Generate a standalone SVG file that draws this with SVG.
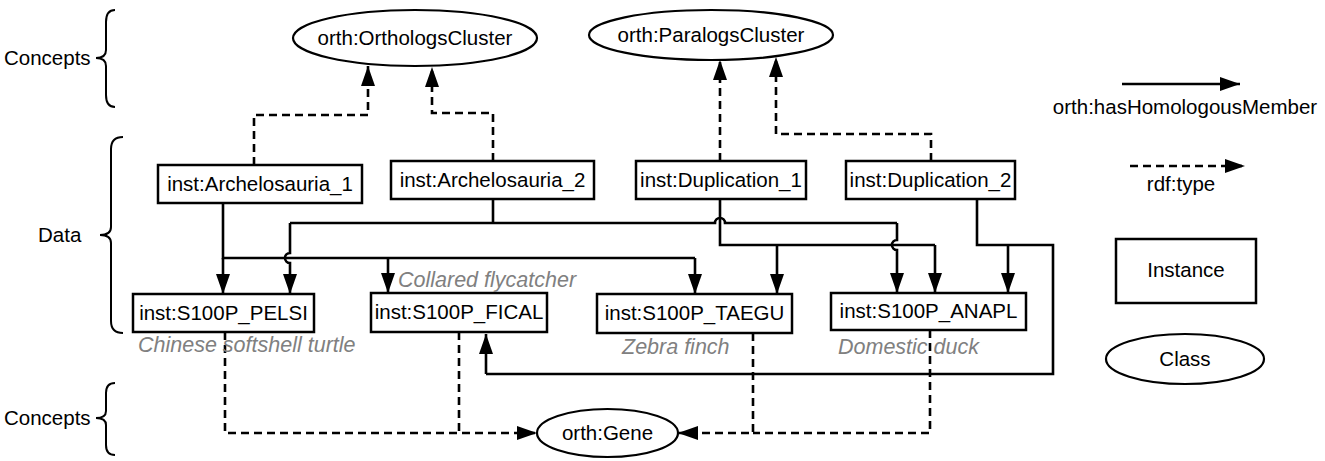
<svg xmlns="http://www.w3.org/2000/svg" width="1325" height="461" viewBox="0 0 1325 461">
<defs>
<style>
text{font-family:"Liberation Sans",Arial,sans-serif;font-size:20.5px;fill:#000}
.c{text-anchor:middle}
.sp{font-style:italic;fill:#808080;font-size:21.5px}
.box{fill:#fff;stroke:#000;stroke-width:2.5}
.ell{fill:#fff;stroke:#000;stroke-width:2.2}
.s{fill:none;stroke:#000;stroke-width:2.6;marker-end:url(#ah)}
.sn{fill:none;stroke:#000;stroke-width:2.6}
.d{fill:none;stroke:#000;stroke-width:2.6;stroke-dasharray:8 5;marker-end:url(#ah)}
.dn{fill:none;stroke:#000;stroke-width:2.6;stroke-dasharray:8 5}
.br{fill:none;stroke:#000;stroke-width:2}
</style>
<marker id="ah" markerUnits="userSpaceOnUse" markerWidth="20" markerHeight="14" refX="20" refY="7" orient="auto" viewBox="0 0 20 14">
<path d="M0,0 L20,7 L0,14 z" fill="#000"/>
</marker>
</defs>
<rect width="1325" height="461" fill="#fff"/>

<g id="labels">
<path class="br" d="M115,10 Q106,10 106,22 L106,50 Q106,58 96,58 Q106,58 106,66 L106,95 Q106,107 115,107"/>
<text x="4" y="65">Concepts</text>
<path class="br" d="M123,137 Q111,137 111,149 L111,227 Q111,235 100,235 Q111,235 111,243 L111,321 Q111,333 123,333"/>
<text x="38" y="242">Data</text>
<path class="br" d="M115,383 Q106,383 106,393 L106,411 Q106,418 96,418 Q106,418 106,425 L106,445 Q106,455 115,455"/>
<text x="4" y="425">Concepts</text>
</g>

<g id="connectors">
<path class="d" d="M254,165 V115 H368 V66"/>
<path class="d" d="M493,161 V113 H432 V67"/>
<path class="d" d="M720,161 V60"/>
<path class="d" d="M931,161 V134 H776 V57"/>
<path class="dn" d="M459,332 V433"/>
<path class="d" d="M225,332 V433 H537"/>
<path class="dn" d="M930,330 V433 H753"/>
<path class="d" d="M753,333 V433 H678"/>
<path class="sn" d="M223,203 V258 H695"/>
<path class="s" d="M223,258 V294"/>
<path class="s" d="M388,258 V293"/>
<path class="s" d="M695,258 V294"/>
<path class="sn" d="M493,199 V223"/>
<path class="sn" d="M290,223 H715 A5,5 0 0 1 725,223 H897"/>
<path class="s" d="M290,223 V253 A5,5 0 0 0 290,263 V294"/>
<path class="s" d="M897,223 V240 A5,5 0 0 0 897,250 V293"/>
<path class="sn" d="M720,199 V245 H935"/>
<path class="s" d="M777,245 V294"/>
<path class="s" d="M935,245 V293"/>
<path class="sn" d="M977,199 V245 H1053 V374 H486"/>
<path class="s" d="M486,374 V334"/>
<path class="s" d="M1008,245 V293"/>
</g>

<g id="n-orthologs">
<ellipse class="ell" cx="415" cy="38" rx="122" ry="28"/>
<text class="c" x="415" y="45">orth:OrthologsCluster</text>
</g>
<g id="n-paralogs">
<ellipse class="ell" cx="711" cy="35" rx="122" ry="25"/>
<text class="c" x="711" y="42">orth:ParalogsCluster</text>
</g>
<g id="n-arch1">
<rect class="box" x="158" y="165" width="204" height="38"/>
<text class="c" x="260" y="191">inst:Archelosauria_1</text>
</g>
<g id="n-arch2">
<rect class="box" x="391" y="161" width="203" height="38"/>
<text class="c" x="492.5" y="187">inst:Archelosauria_2</text>
</g>
<g id="n-dup1">
<rect class="box" x="636" y="161" width="170" height="38"/>
<text class="c" x="721" y="187">inst:Duplication_1</text>
</g>
<g id="n-dup2">
<rect class="box" x="846" y="161" width="169" height="38"/>
<text class="c" x="930.5" y="187">inst:Duplication_2</text>
</g>
<g id="n-pelsi">
<rect class="box" x="133" y="294" width="181" height="38"/>
<text class="c" x="223.5" y="320">inst:S100P_PELSI</text>
<text class="sp" x="138" y="352">Chinese softshell turtle</text>
</g>
<g id="n-fical">
<rect class="box" x="371" y="293" width="176" height="39"/>
<text class="c" x="459" y="319">inst:S100P_FICAL</text>
<text class="sp" x="398" y="287">Collared flycatcher</text>
</g>
<g id="n-taegu">
<rect class="box" x="597" y="294" width="195" height="39"/>
<text class="c" x="694.5" y="320">inst:S100P_TAEGU</text>
<text class="sp" x="622" y="354">Zebra finch</text>
</g>
<g id="n-anapl">
<rect class="box" x="831" y="293" width="195" height="37"/>
<text class="c" x="928.5" y="318">inst:S100P_ANAPL</text>
<text class="sp" x="838" y="354">Domestic duck</text>
</g>
<g id="n-gene">
<ellipse class="ell" cx="607.5" cy="433" rx="70.5" ry="24"/>
<text class="c" x="607.5" y="440">orth:Gene</text>
</g>

<g id="legend">
<path class="s" d="M1122,84 H1240"/>
<text class="c" x="1185" y="114">orth:hasHomologousMember</text>
<path class="d" d="M1130,166 H1245"/>
<text class="c" x="1181" y="191">rdf:type</text>
<rect class="box" x="1116" y="239" width="140" height="64"/>
<text class="c" x="1186" y="277">Instance</text>
<ellipse class="ell" cx="1185" cy="359" rx="79" ry="25"/>
<text class="c" x="1185" y="366">Class</text>
</g>
</svg>
